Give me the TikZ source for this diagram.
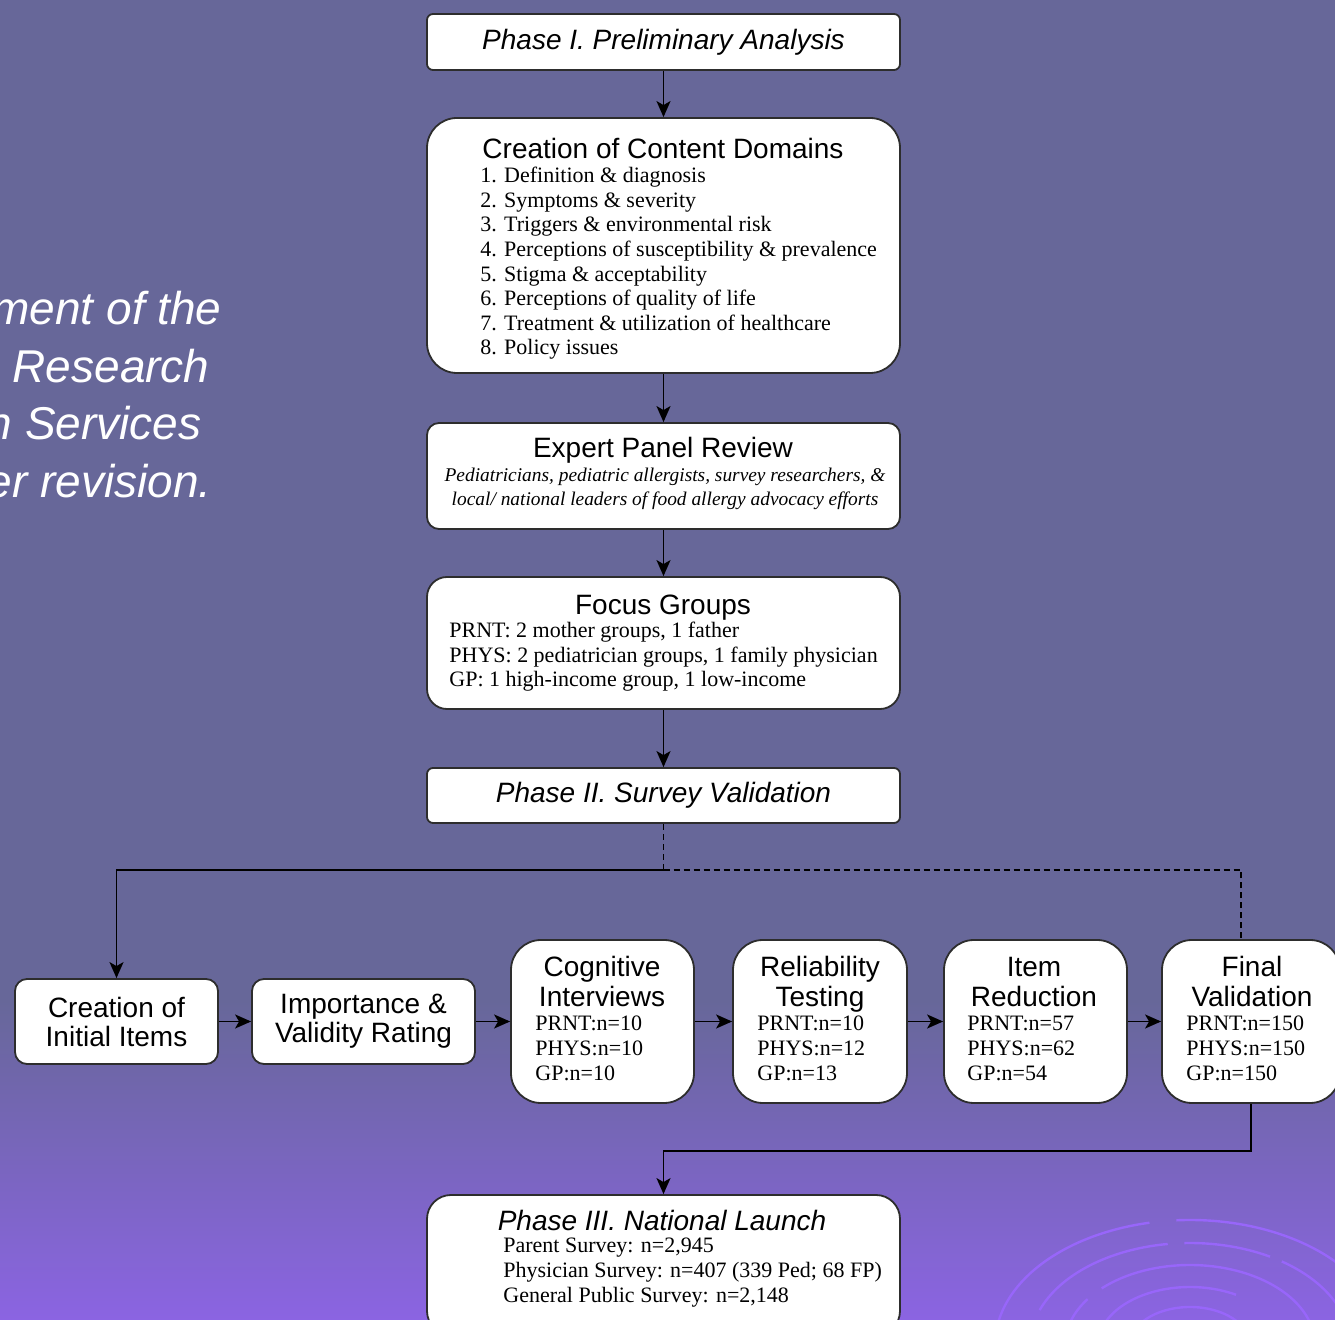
\documentclass[tikz,border=0pt]{standalone}
\usepackage{fontspec}
\setmainfont{Liberation Serif}
\setsansfont{Liberation Sans}
\usetikzlibrary{arrows.meta}
\definecolor{bgtop}{RGB}{103,103,153}
\definecolor{bgbot}{RGB}{139,100,226}
\definecolor{swirlc}{RGB}{152,102,250}
\definecolor{edge}{RGB}{45,45,45}

\begin{document}
\begin{tikzpicture}[x=0.5pt, y=-0.5pt,
    box/.style={draw=edge, fill=white, line width=0.9pt, inner sep=0pt},
    head/.style={font=\sffamily\fontsize{14}{15}\selectfont, inner sep=0pt, align=center},
    phase/.style={font=\sffamily\itshape\fontsize{14}{15}\selectfont},
    small/.style={font=\fontsize{11}{12.3}\selectfont, inner sep=0pt, align=left},
    lefttext/.style={font=\sffamily\itshape\fontsize{23}{28}\selectfont, text=white, inner sep=0pt, anchor=base east},
    arr/.style={-{Stealth[length=8pt, width=7pt, inset=2pt]}, line width=0.9pt},
    link/.style={line width=0.9pt},
    swirl/.style={draw=swirlc, line width=1.2pt}]

    \useasboundingbox (0,0) rectangle (1335,1320);
    \clip (0,0) rectangle (1335,1320);
    \fill[bgtop] (0,0) rectangle (1335,1001);
    \shade[top color=bgtop, bottom color=bgbot] (0,1000) rectangle (1335,1320);

    \foreach \rx/\ry/\a/\b in {195/125/185/258, 195/125/266/345, 160/102/200/262, 160/102/268/300,
        160/102/305/340, 125/80/190/215, 125/80/225/350, 92/58/195/300, 60/38/200/340}
        \draw[swirl] (1190,1345) ++({\rx*cos(\a)},{\ry*sin(\a)}) arc[start angle=\a, end angle=\b, x radius=\rx, y radius=\ry];

    \node[lefttext] (t1) at (222,325) {ment of the};
    \node[lefttext] (t2) at (210,383) {Research};
    \node[lefttext] (t3) at (202,440) {n Services};
    \node[lefttext] (t4) at (212,498) {er revision.};

    \node[box, rounded corners=3pt, minimum width=236.5pt, minimum height=28pt, phase] (ph1) at (663.5,42) {Phase I. Preliminary Analysis};

    \node[box, rounded corners=15pt, minimum width=236.5pt, minimum height=127.5pt] (dom) at (663.5,245.5) {};
    \node[head, anchor=base] (domt) at (663,159) {Creation of Content Domains};
    \node[small, anchor=base west] (doml) at (480,355) {1. Definition \& diagnosis\\2. Symptoms \& severity\\3. Triggers \& environmental risk\\4. Perceptions of susceptibility \& prevalence\\5. Stigma \& acceptability\\6. Perceptions of quality of life\\7. Treatment \& utilization of healthcare\\8. Policy issues};

    \node[box, rounded corners=6pt, minimum width=236.5pt, minimum height=53pt] (exp) at (663.5,476) {};
    \node[head, anchor=base] (expt) at (663,458) {Expert Panel Review};
    \node[small, align=center, font=\itshape\fontsize{9.7}{12}\selectfont, anchor=base] (expl) at (665,506) {Pediatricians, pediatric allergists, survey researchers, \&\\local/ national leaders of food allergy advocacy efforts};

    \node[box, rounded corners=10pt, minimum width=236.5pt, minimum height=66pt] (foc) at (663.5,643) {};
    \node[head, anchor=base] (foct) at (663,615) {Focus Groups};
    \node[small, anchor=base west] (focl) at (449,687) {PRNT: 2 mother groups, 1 father\\PHYS: 2 pediatrician groups, 1 family physician\\GP: 1 high-income group, 1 low-income};

    \node[box, rounded corners=3pt, minimum width=236.5pt, minimum height=27.5pt, phase] (ph2) at (663.5,795.5) {Phase II. Survey Validation};

    \node[box, rounded corners=6pt, minimum width=101.5pt, minimum height=42.5pt, head, font=\sffamily\fontsize{14}{14.5}\selectfont] (ini) at (116.5,1021.5) {Creation of\\Initial Items};
    \node[box, rounded corners=6pt, minimum width=111.5pt, minimum height=42.5pt, head, font=\sffamily\fontsize{14}{14.5}\selectfont] (imp) at (363.5,1021.5) {Importance \&\\Validity Rating};

    \node[box, rounded corners=15pt, minimum width=91.5pt, minimum height=81.5pt] (cog) at (602.5,1021.5) {};
    \node[head, anchor=base] (cogt) at (602,1007) {Cognitive\\Interviews};
    \node[small, anchor=base west] (cogl) at (535,1080) {PRNT:n=10\\PHYS:n=10\\GP:n=10};

    \node[box, rounded corners=15pt, minimum width=87pt, minimum height=81.5pt] (rel) at (820,1021.5) {};
    \node[head, anchor=base] (relt) at (820,1007) {Reliability\\Testing};
    \node[small, anchor=base west] (rell) at (757,1080) {PRNT:n=10\\PHYS:n=12\\GP:n=13};

    \node[box, rounded corners=15pt, minimum width=91.5pt, minimum height=81.5pt] (red) at (1035.5,1021.5) {};
    \node[head, anchor=base] (redt) at (1034,1007) {Item\\Reduction};
    \node[small, anchor=base west] (redl) at (967,1080) {PRNT:n=57\\PHYS:n=62\\GP:n=54};

    \node[box, rounded corners=15pt, minimum width=89pt, minimum height=81.5pt] (fin) at (1251,1021.5) {};
    \node[head, anchor=base] (fint) at (1252,1007) {Final\\Validation};
    \node[small, anchor=base west] (finl) at (1186,1080) {PRNT:n=150\\PHYS:n=150\\GP:n=150};

    \node[box, rounded corners=12pt, minimum width=236.5pt, minimum height=70pt] (ph3) at (663.5,1265) {};
    \node[phase, inner sep=0pt, anchor=base] (ph3t) at (662,1230) {Phase III. National Launch};
    \node[small, anchor=base west] (ph3l) at (503,1302) {Parent Survey: n=2,945\\Physician Survey: n=407 (339 Ped; 68 FP)\\General Public Survey: n=2,148};

    \draw[arr] (ph1) -- (dom);
    \draw[arr] (dom) -- (exp);
    \draw[arr] (exp) -- (foc);
    \draw[arr] (foc) -- (ph2);

    \coordinate (split) at (663.5,870);
    \coordinate (turn) at (1241,870);
    \draw[link, dash pattern=on 3pt off 2pt] (ph2) -- (split);
    \draw[arr] (split) -| (ini);
    \draw[link, dash pattern=on 3pt off 2pt] (split) -- (turn) -- (turn |- fin.north);

    \draw[arr] (ini) -- (imp);
    \draw[arr] (imp) -- (cog);
    \draw[arr] (cog) -- (rel);
    \draw[arr] (rel) -- (red);
    \draw[arr] (red) -- (fin);

    \draw[arr] (fin.south) -- ++(0,47) -| (ph3);
\end{tikzpicture}
\end{document}
